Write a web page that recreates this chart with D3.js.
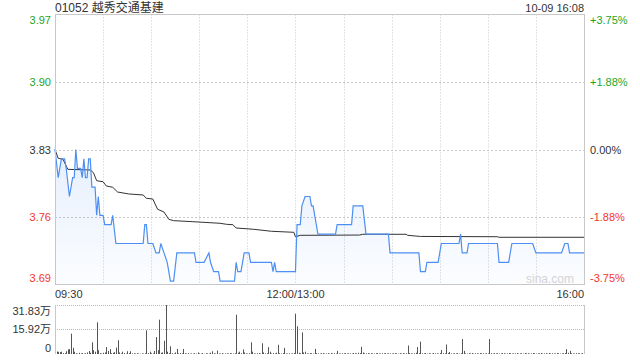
<!DOCTYPE html>
<html>
<head>
<meta charset="utf-8">
<script src="https://cdn.jsdelivr.net/npm/d3@7"></script>
<style>
  body { margin: 0; background: #fff; }
  svg text { font-family: "Liberation Sans", Arial, "Noto Sans CJK SC", sans-serif; }
</style>
</head>
<body>
<svg id="chart" width="640" height="360"></svg>
<script>
//intraday chart of 01052, one day of minutes (09:30-12:00, 13:00-16:00 = 330 min)

var title = "01052 越秀交通基建";
var stamp = "10-09 16:08";
var prevClose = 3.83;

//price line, only the minutes where it turns
var priceMin = [0, 2, 4, 6, 7, 9, 11, 12, 13, 14, 16, 17, 18, 19, 20, 21, 22, 23, 25, 26, 27, 28, 30, 31, 35, 36, 38,
  55, 56, 57, 58, 61, 63, 65, 66, 68, 70, 71, 72, 74, 76, 87, 88, 93, 96, 97, 99, 102, 103, 112, 113, 114, 116, 118,
  121, 122, 135, 136, 137, 138, 150, 151, 153, 154, 156, 159, 160, 161, 163, 164, 175, 176, 185, 186, 192, 194, 208,
  209, 227, 228, 231, 232, 239, 241, 252, 253, 254, 257, 258, 276, 277, 283, 285, 298, 300, 316, 318, 320, 321, 330];
var priceVal = [3.83, 3.80, 3.82, 3.82, 3.81, 3.78, 3.80, 3.80, 3.83, 3.81, 3.81, 3.80, 3.82, 3.80, 3.80, 3.82, 3.82, 3.79, 3.79, 3.76, 3.78, 3.76, 3.76, 3.75, 3.75, 3.76, 3.73,
  3.73, 3.75, 3.75, 3.73, 3.73, 3.72, 3.72, 3.73, 3.72, 3.71, 3.70, 3.69, 3.69, 3.72, 3.72, 3.71, 3.71, 3.72, 3.71, 3.70, 3.70, 3.69, 3.69, 3.71, 3.70, 3.70, 3.72,
  3.72, 3.71, 3.71, 3.70, 3.71, 3.70, 3.70, 3.75, 3.75, 3.77, 3.78, 3.78, 3.77, 3.77, 3.75, 3.74, 3.74, 3.75, 3.75, 3.77, 3.77, 3.74, 3.74,
  3.72, 3.72, 3.70, 3.70, 3.71, 3.71, 3.73, 3.73, 3.74, 3.72, 3.72, 3.73, 3.73, 3.71, 3.71, 3.73, 3.73, 3.72, 3.72, 3.73, 3.73, 3.72, 3.72];

//average price line
var avgMin = [0, 2, 5, 8, 22, 24, 26, 30, 32, 36, 39, 46, 55, 57, 61, 64, 68, 71, 74, 86, 103, 107, 111, 113, 124, 135,
  149, 150, 153, 190, 192, 219, 220, 228, 276, 277, 330];
var avgVal = [3.830, 3.8206, 3.8196, 3.8089, 3.8082, 3.8053, 3.7968, 3.7957, 3.7912, 3.7898, 3.7848, 3.7827, 3.7816, 3.7781, 3.7773, 3.7664, 3.7635, 3.7557, 3.7543, 3.7532, 3.7515, 3.7504, 3.7500, 3.7465, 3.7451, 3.7430,
  3.7419, 3.7372, 3.7387, 3.7390, 3.7398, 3.7398, 3.7387, 3.7375, 3.7372, 3.7366, 3.7366];

//volume per minute, in 万
var volumes = [
  5.0, 1.6, 1.4, 1.2, 1.5, 0.6, 0.5, 1.8, 3.0, 3.2,
  13.2, 4.0, 1.5, 0.5, 0.3, 0.8, 0.4, 0.6, 0.3, 0.5,
  1.0, 2.0, 0.8, 7.6, 2.5, 1.5, 20.6, 2.5, 0.6, 0.3,
  0.8, 1.0, 4.5, 2.0, 3.2, 0.5, 0.8, 1.2, 4.2, 8.9,
  1.0, 0.4, 1.5, 0.6, 0.3, 1.8, 0.6, 1.8, 0.4, 0.5,
  0.3, 0.5, 0.3, 0.2, 0.4, 0.3, 0.5, 15.4, 0.6, 1.5,
  0.5, 0.4, 2.0, 11.0, 2.5, 22.3, 0.8, 1.0, 8.6, 31.83,
  1.5, 0.6, 5.0, 0.5, 0.3, 1.0, 3.3, 0.4, 0.6, 0.5,
  3.3, 0.5, 0.3, 0.6, 0.2, 0.4, 0.3, 0.5, 0.3, 1.0,
  0.4, 0.3, 0.6, 0.2, 0.5, 0.4, 0.3, 0.8, 1.8, 0.5,
  0.3, 2.2, 0.4, 0.3, 0.6, 0.2, 0.4, 0.5, 0.3, 0.6,
  0.4, 0.3, 0.5, 25.5, 0.8, 1.5, 0.5, 3.0, 1.0, 0.4,
  0.3, 0.6, 7.6, 1.5, 0.4, 0.3, 0.5, 0.6, 0.3, 7.0,
  1.0, 0.4, 0.5, 4.5, 1.5, 0.3, 0.6, 0.4, 0.8, 6.0,
  0.5, 0.3, 0.6, 4.0, 0.4, 0.3, 0.5, 0.2, 0.4, 0.6,
  26.2, 18.0, 0.8, 0.5, 14.0, 1.0, 1.5, 0.4, 0.3, 0.6,
  0.5, 0.3, 3.3, 0.6, 0.4, 0.3, 0.5, 0.6, 0.3, 0.4,
  0.5, 0.3, 0.6, 0.4, 0.5, 0.3, 2.0, 0.4, 0.3, 0.5,
  0.4, 0.6, 0.3, 0.5, 0.4, 0.3, 0.6, 0.5, 0.4, 0.8,
  0.6, 4.7, 1.0, 0.5, 0.4, 0.6, 0.3, 0.5, 0.4, 0.3,
  0.5, 0.6, 0.4, 0.3, 0.5, 0.4, 0.6, 0.3, 0.5, 0.4,
  0.3, 0.5, 0.6, 0.4, 0.3, 0.5, 0.4, 0.6, 0.3, 0.5,
  5.5, 0.6, 0.4, 0.3, 0.5, 0.8, 4.5, 0.6, 8.0, 0.5,
  0.4, 0.6, 0.3, 0.5, 0.4, 0.3, 0.6, 0.5, 0.4, 0.3,
  0.6, 2.6, 0.5, 0.4, 6.2, 0.6, 1.3, 0.4, 0.3, 0.5,
  0.4, 0.6, 0.3, 0.5, 9.7, 2.0, 0.4, 0.3, 0.5, 0.4,
  0.6, 0.3, 0.5, 0.4, 0.3, 0.6, 0.5, 0.4, 0.3, 0.5,
  0.4, 9.7, 0.5, 0.3, 0.6, 0.4, 0.5, 0.3, 0.4, 0.6,
  0.5, 0.3, 0.4, 0.6, 0.5, 0.3, 0.4, 0.5, 0.6, 0.3,
  0.4, 0.5, 0.3, 0.6, 0.4, 0.5, 0.3, 0.4, 0.6, 0.5,
  0.3, 0.4, 0.5, 0.6, 0.3, 0.4, 0.5, 0.3, 0.6, 0.4,
  0.5, 0.3, 0.4, 0.6, 0.5, 0.3, 0.4, 0.5, 0.6, 3.2,
  0.8, 2.0, 0.5, 0.4, 0.3, 0.6, 0.5, 0.4, 0.3, 0.6,
  11.7];

//tick labels
var pctTicks = [3.75, 1.875, 0, -1.875, -3.75];
var priceLabels = ["3.97", "3.90", "3.83", "3.76", "3.69"];
var pctLabels = ["+3.75%", "+1.88%", "0.00%", "-1.88%", "-3.75%"];
var volTicks = [31.83, 15.92, 0];
var volLabels = ["31.83万", "15.92万", "0"];
var timeTicks = [0, 150, 330];
var timeLabels = ["09:30", "12:00/13:00", "16:00"];

var green = "#1ea51e", red = "#f3352c", dark = "#333";

var svg = d3.select("#chart");

var x = d3.scaleLinear().domain([0, 330]).range([55, 584]);
var yPct = d3.scaleLinear().domain([-3.75, 3.75]).range([284.5, 14.5]);
var yVol = d3.scaleLinear().domain([0, 31.83]).range([354, 305]);

function pct(p) { return (p / prevClose - 1) * 100; }

//gradient under the price line
var grad = svg.append("defs").append("linearGradient")
  .attr("id", "fillGrad")
  .attr("gradientUnits", "userSpaceOnUse")
  .attr("x1", 0).attr("y1", yPct(0)).attr("x2", 0).attr("y2", yPct(-3.75));
grad.append("stop").attr("offset", 0).attr("stop-color", "#4d8ff2").attr("stop-opacity", 0.14);
grad.append("stop").attr("offset", 1).attr("stop-color", "#4d8ff2").attr("stop-opacity", 0.02);

//grid of the price panel
svg.append("g").selectAll("line")
  .data(d3.range(30, 330, 30))
  .enter().append("line")
  .attr("x1", function(d) { return Math.round(x(d)) + 0.5; })
  .attr("x2", function(d) { return Math.round(x(d)) + 0.5; })
  .attr("y1", yPct(3.75)).attr("y2", yPct(-3.75))
  .attr("stroke", "#c8c8c8").attr("stroke-dasharray", "1,2");

svg.append("g").selectAll("line")
  .data(pctTicks.slice(1, 4))
  .enter().append("line")
  .attr("x1", x(0)).attr("x2", x(330))
  .attr("y1", function(d) { return Math.round(yPct(d)) + 0.5; })
  .attr("y2", function(d) { return Math.round(yPct(d)) + 0.5; })
  .attr("stroke", "#c8c8c8").attr("stroke-dasharray", "2,2");

//area + lines
var pts = priceMin.map(function(m, i) { return [m, priceVal[i]]; });
var avgPts = avgMin.map(function(m, i) { return [m, avgVal[i]]; });

svg.append("path")
  .datum(pts)
  .attr("fill", "url(#fillGrad)")
  .attr("d", d3.area()
    .x(function(d) { return x(d[0]); })
    .y0(yPct(-3.75))
    .y1(function(d) { return yPct(pct(d[1])); }));

svg.append("path")
  .datum(avgPts)
  .attr("fill", "none").attr("stroke", dark).attr("stroke-width", 1)
  .attr("d", d3.line()
    .x(function(d) { return x(d[0]); })
    .y(function(d) { return yPct(pct(d[1])); }));

svg.append("path")
  .datum(pts)
  .attr("fill", "none").attr("stroke", "#4d8ff2").attr("stroke-width", 1.2)
  .attr("d", d3.line()
    .x(function(d) { return x(d[0]); })
    .y(function(d) { return yPct(pct(d[1])); }));

//price panel border
svg.append("rect")
  .attr("x", 55.5).attr("y", 14.5)
  .attr("width", 529).attr("height", 270)
  .attr("fill", "none").attr("stroke", "#c8c8c8");

//watermark
svg.append("text")
  .attr("x", 574).attr("y", 283)
  .attr("text-anchor", "end")
  .attr("font-size", 12).attr("fill", "#d4d4d4")
  .text("sina.com");

//price labels left and percent labels right
function labelY(d, i) {
  var y = yPct(d);
  if (i == 0) return y + 9;             //top one hangs below the border
  if (i == pctTicks.length - 1) return y - 2.5;
  return y + 4;
}
function labelColor(d) {
  if (d > 0) return green;
  if (d < 0) return red;
  return dark;
}

svg.append("g").selectAll("text")
  .data(pctTicks)
  .enter().append("text")
  .attr("x", 51).attr("y", labelY)
  .attr("text-anchor", "end").attr("font-size", 11)
  .attr("fill", labelColor)
  .text(function(d, i) { return priceLabels[i]; });

svg.append("g").selectAll("text")
  .data(pctTicks)
  .enter().append("text")
  .attr("x", 590).attr("y", labelY)
  .attr("font-size", 11)
  .attr("fill", labelColor)
  .text(function(d, i) { return pctLabels[i]; });

//header
svg.append("text")
  .attr("x", 55).attr("y", 12)
  .attr("font-size", 12).attr("fill", dark)
  .text(title);

svg.append("text")
  .attr("x", 584).attr("y", 12)
  .attr("text-anchor", "end")
  .attr("font-size", 11).attr("fill", dark)
  .text(stamp);

//time labels
svg.append("g").selectAll("text")
  .data(timeTicks)
  .enter().append("text")
  .attr("x", function(d) { return x(d); })
  .attr("y", 298)
  .attr("text-anchor", function(d, i) { return ["start", "middle", "end"][i]; })
  .attr("font-size", 11).attr("fill", dark)
  .text(function(d, i) { return timeLabels[i]; });

//volume panel
svg.append("g").selectAll("line")
  .data(volTicks.slice(0, 2))
  .enter().append("line")
  .attr("x1", x(0)).attr("x2", x(330))
  .attr("y1", function(d) { return Math.round(yVol(d)) + 0.5; })
  .attr("y2", function(d) { return Math.round(yVol(d)) + 0.5; })
  .attr("stroke", "#bbb").attr("stroke-dasharray", "1,1");

svg.append("g").selectAll("rect")
  .data(volumes)
  .enter().append("rect")
  .attr("x", function(d, i) { return Math.round(x(i)); })
  .attr("width", 1)
  .attr("y", function(d) { return yVol(d); })
  .attr("height", function(d) { return yVol(0) - yVol(d); })
  .attr("fill", "#555");

svg.append("line")
  .attr("x1", 55.5).attr("x2", 55.5).attr("y1", 305).attr("y2", 354)
  .attr("stroke", "#c8c8c8");
svg.append("line")
  .attr("x1", 584.5).attr("x2", 584.5).attr("y1", 305).attr("y2", 354)
  .attr("stroke", "#c8c8c8");

svg.append("g").selectAll("text")
  .data(volTicks)
  .enter().append("text")
  .attr("x", 51)
  .attr("y", function(d, i) {
    var y = yVol(d);
    if (i == 0) return y + 10;
    if (i == 2) return y - 2;
    return y + 4;
  })
  .attr("text-anchor", "end").attr("font-size", 11).attr("fill", dark)
  .text(function(d, i) { return volLabels[i]; });
</script>
</body>
</html>
